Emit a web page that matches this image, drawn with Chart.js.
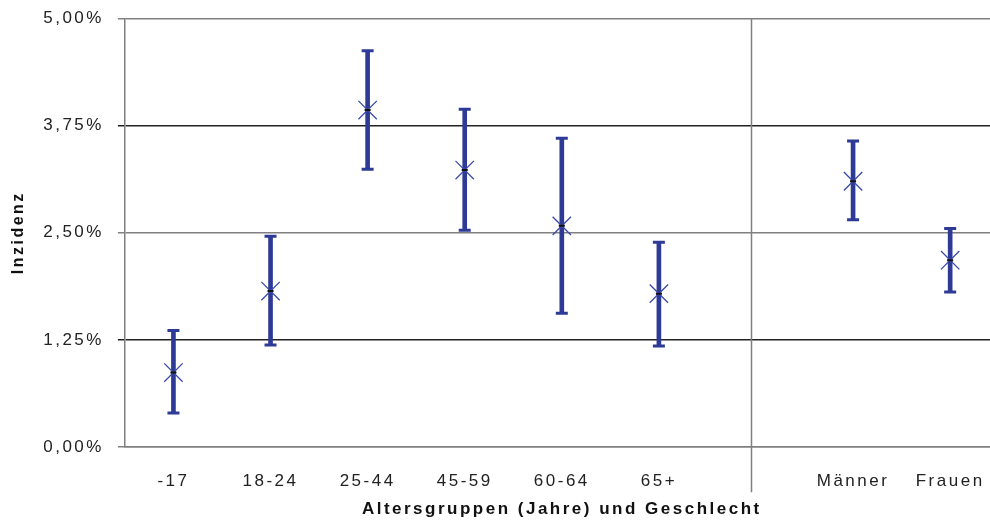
<!DOCTYPE html>
<html>
<head>
<meta charset="utf-8">
<script src="https://cdn.jsdelivr.net/npm/chart.js@4"></script>
<style>
  html, body { margin: 0; padding: 0; background: #fff; overflow: hidden; }
  #wrap { width: 1013px; height: 520px; }
</style>
</head>
<body>
<div id="wrap"><canvas id="chart"></canvas></div>
<script>
// categories (empty slot = gap between age groups and sex)
const categories = ['-17', '18-24', '25-44', '45-59', '60-64', '65+', '', 'Männer', 'Frauen'];
// incidence in percent, with lower / upper bound of the interval
const incidence = [0.87, 1.82, 3.93, 3.23, 2.58, 1.79, null, 3.10, 2.18];
const lower = [0.40, 1.19, 3.24, 2.53, 1.56, 1.18, null, 2.65, 1.81];
const upper = [1.36, 2.46, 4.62, 3.94, 3.60, 2.39, null, 3.57, 2.55];
const yTicks = [0, 1.25, 2.5, 3.75, 5];

const blue = '#2e3b96';
const fontFamily = '"Liberation Sans", Arial, sans-serif';

// range pairs for the floating bars (error bars)
const ranges = lower.map((lo, i) => lo === null ? null : [lo, upper[i]]);

// letter spacing like the original rendering
const spacingPlugin = {
    id: 'spacing',
    beforeLayout(chart) { chart.ctx.letterSpacing = '2.5px'; },
    beforeDraw(chart) { chart.ctx.letterSpacing = '2.5px'; }
};

// vertical separator between age groups and sex
const dividerPlugin = {
    id: 'divider',
    afterDraw(chart) {
        const ctx = chart.ctx;
        const x = Math.round(chart.scales.x.getPixelForValue(6)) - 4.5;
        ctx.save();
        ctx.strokeStyle = '#808080';
        ctx.lineWidth = 1.5;
        ctx.beginPath();
        ctx.moveTo(x, chart.chartArea.top);
        ctx.lineTo(x, chart.chartArea.bottom + 45);
        ctx.stroke();
        ctx.restore();
    }
};

const ctx = document.getElementById('chart').getContext('2d');
new Chart(ctx, {
    data: {
        labels: categories,
        datasets: [
            {
                type: 'bar',
                data: ranges,
                backgroundColor: blue,
                barThickness: 4,
                order: 3
            },
            {
                type: 'line',
                data: lower,
                showLine: false,
                pointStyle: 'line',
                pointRadius: 6,
                pointBorderWidth: 3,
                pointBorderColor: blue,
                order: 2
            },
            {
                type: 'line',
                data: upper,
                showLine: false,
                pointStyle: 'line',
                pointRadius: 6,
                pointBorderWidth: 3,
                pointBorderColor: blue,
                order: 2
            },
            {
                type: 'line',
                data: incidence,
                showLine: false,
                pointStyle: 'crossRot',
                pointRadius: 13,
                pointBorderWidth: 1.3,
                pointBorderColor: '#3a4aaa',
                order: 1
            },
            {
                type: 'line',
                data: incidence,
                showLine: false,
                pointStyle: 'line',
                pointRadius: 3,
                pointBorderWidth: 2,
                pointBorderColor: '#111',
                order: 0
            }
        ]
    },
    options: {
        responsive: true,
        maintainAspectRatio: false,
        animation: false,
        layout: { padding: { top: 0, right: 0, left: 9, bottom: 0 } },
        plugins: {
            legend: { display: false },
            tooltip: { enabled: false }
        },
        scales: {
            x: {
                offset: true,
                grid: { display: false, drawTicks: false },
                border: { display: true, color: '#808080', width: 1.5 },
                ticks: {
                    padding: 24,
                    color: '#222',
                    font: { family: fontFamily, size: 17 }
                },
                title: {
                    display: true,
                    text: 'Altersgruppen (Jahre) und Geschlecht',
                    color: '#111',
                    font: { family: fontFamily, size: 17, weight: 'bold' },
                    padding: { top: -16, bottom: 0 }
                }
            },
            y: {
                min: 0,
                max: 5,
                afterBuildTicks(scale) {
                    scale.ticks = yTicks.map(v => ({ value: v }));
                },
                grid: {
                    tickLength: 7,
                    lineWidth: 1.5,
                    color: c => (c.index % 2 === 1 ? '#222' : '#808080')
                },
                border: { display: true, color: '#808080', width: 1.5 },
                ticks: {
                    padding: 14,
                    color: '#222',
                    font: { family: fontFamily, size: 17, lineHeight: 0.5 },
                    callback: v => v.toFixed(2).replace('.', ',') + '%'
                },
                title: {
                    display: true,
                    text: 'Inzidenz',
                    color: '#111',
                    font: { family: fontFamily, size: 16, weight: 'bold' },
                    padding: { top: 0, bottom: 1 }
                }
            }
        }
    },
    plugins: [spacingPlugin, dividerPlugin]
});
</script>
</body>
</html>
